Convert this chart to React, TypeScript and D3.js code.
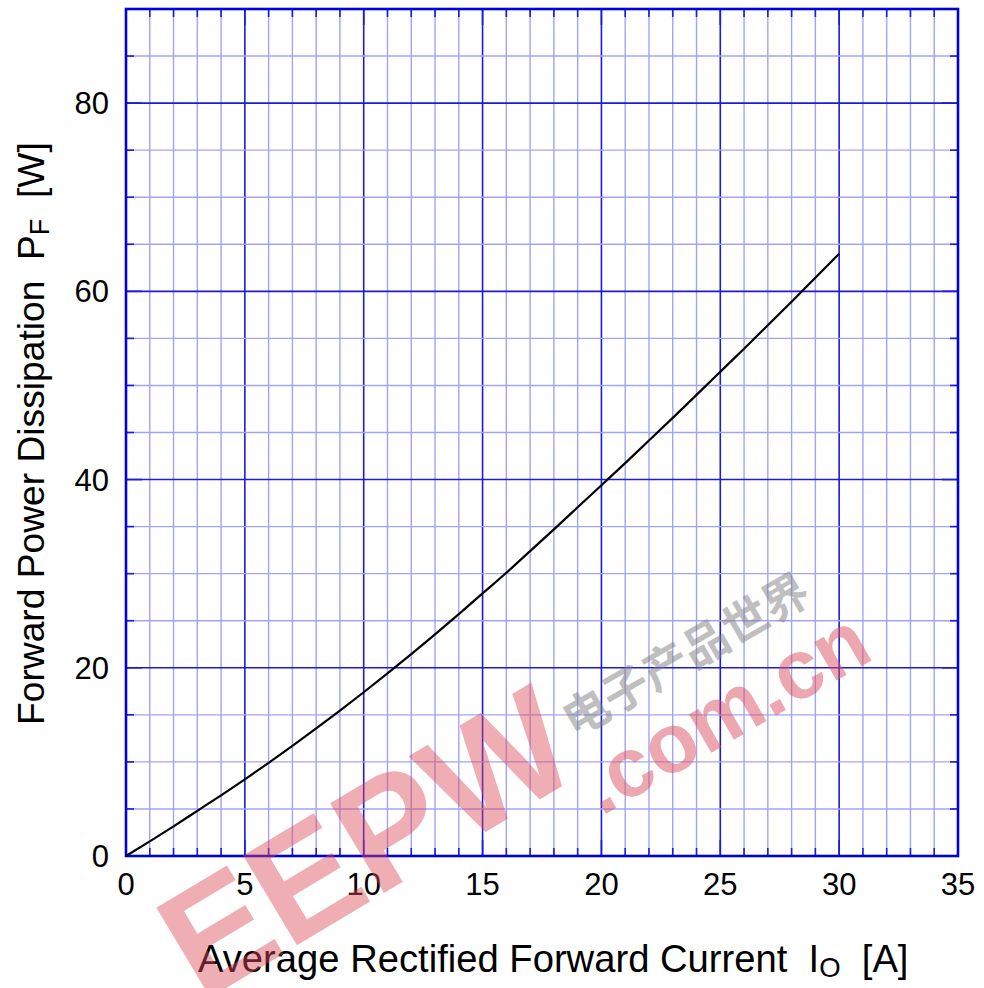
import React, { useEffect, useRef } from 'react';
import * as d3 from 'd3';

// forward current Io [A] and power dissipation Pf [W]
const current = [0, 1, 2, 3, 4, 5, 6, 7, 8, 9, 10, 11, 12, 13, 14, 15, 16, 17, 18, 19, 20, 21, 22, 23, 24, 25, 26, 27, 28, 29, 30];
const power = [0, 1.55, 3.15, 4.8, 6.45, 8.15, 9.9, 11.7, 13.55, 15.45, 17.4, 19.4, 21.45, 23.55, 25.7, 27.9, 30.1, 32.4, 34.7, 37.05, 39.4, 41.75, 44.15, 46.55, 49.0, 51.45, 53.9, 56.4, 58.9, 61.45, 64.0];

const xTickLabels = [0, 5, 10, 15, 20, 25, 30, 35];
const yTickLabels = [0, 20, 40, 60, 80];

const App = () => {
  const chartRef = useRef(null);

  useEffect(() => {
    const width = 984;
    const height = 988;
    const margin = { top: 9, right: 26, bottom: 132, left: 126 };
    const w = width - margin.left - margin.right;
    const h = height - margin.top - margin.bottom;
    const font = '"Liberation Sans", Arial, sans-serif';

    const root = d3
      .select(chartRef.current)
      .append('svg')
      .attr('width', width)
      .attr('height', height)
      .style('position', 'absolute')
      .style('left', 0)
      .style('top', 0)
      .style('background', '#fff');

    const svg = root.append('g').attr('transform', `translate(${margin.left},${margin.top})`);

    const x = d3.scaleLinear().domain([0, 35]).range([0, w]);
    const y = d3.scaleLinear().domain([0, 90]).range([h, 0]);

    const minorBlue = '#a3a3f3';
    const majorBlue = '#1a1ae0';

    // vertical grid: every 1 A, darker every 5 A
    const xs = d3.range(1, 35);
    svg
      .selectAll('.vgrid')
      .data(xs)
      .enter()
      .append('line')
      .attr('x1', d => x(d))
      .attr('x2', d => x(d))
      .attr('y1', 0)
      .attr('y2', h)
      .attr('stroke', d => (d % 5 === 0 ? majorBlue : minorBlue))
      .attr('stroke-width', d => (d % 5 === 0 ? 1.6 : 1.4));

    // horizontal grid: every 5 W, darker every 20 W
    const ys = d3.range(5, 90, 5);
    svg
      .selectAll('.hgrid')
      .data(ys)
      .enter()
      .append('line')
      .attr('x1', 0)
      .attr('x2', w)
      .attr('y1', d => y(d))
      .attr('y2', d => y(d))
      .attr('stroke', d => (d % 20 === 0 ? majorBlue : minorBlue))
      .attr('stroke-width', d => (d % 20 === 0 ? 1.6 : 1.4));

    // inward ticks on all four sides
    const tick = svg.append('g').attr('stroke', majorBlue).attr('stroke-width', 1.6);
    xs.forEach(d => {
      const len = d % 5 === 0 ? 16 : 8;
      tick.append('line').attr('x1', x(d)).attr('x2', x(d)).attr('y1', h).attr('y2', h - len);
      tick.append('line').attr('x1', x(d)).attr('x2', x(d)).attr('y1', 0).attr('y2', len);
    });
    ys.forEach(d => {
      const len = d % 20 === 0 ? 16 : 8;
      tick.append('line').attr('x1', 0).attr('x2', len).attr('y1', y(d)).attr('y2', y(d));
      tick.append('line').attr('x1', w).attr('x2', w - len).attr('y1', y(d)).attr('y2', y(d));
    });

    // frame
    svg
      .append('rect')
      .attr('x', 0)
      .attr('y', 0)
      .attr('width', w)
      .attr('height', h)
      .attr('fill', 'none')
      .attr('stroke', '#0000dd')
      .attr('stroke-width', 2.6);

    // curve
    const line = d3
      .line()
      .x((d, i) => x(current[i]))
      .y(d => y(d))
      .curve(d3.curveMonotoneX);

    svg
      .append('path')
      .datum(power)
      .attr('d', line)
      .attr('fill', 'none')
      .attr('stroke', '#000')
      .attr('stroke-width', 2.2);

    // tick labels
    svg
      .selectAll('.xlab')
      .data(xTickLabels)
      .enter()
      .append('text')
      .attr('x', d => x(d))
      .attr('y', h + 39)
      .attr('text-anchor', 'middle')
      .attr('font-family', font)
      .attr('font-size', 31)
      .text(d => d);

    svg
      .selectAll('.ylab')
      .data(yTickLabels)
      .enter()
      .append('text')
      .attr('x', -17)
      .attr('y', d => y(d) + 11)
      .attr('text-anchor', 'end')
      .attr('font-family', font)
      .attr('font-size', 31)
      .text(d => d);

    // axis titles
    const xt = root
      .append('text')
      .attr('x', 198)
      .attr('y', 972)
      .attr('font-family', font)
      .attr('font-size', 38.2)
      .attr('xml:space', 'preserve');
    xt.append('tspan').text('Average Rectified Forward Current  I');
    xt.append('tspan').attr('font-size', 27.5).attr('dy', 5).text('O');
    xt.append('tspan').attr('dy', -5).text('  [A]');

    const yt = root
      .append('text')
      .attr('transform', 'translate(44,725) rotate(-90)')
      .attr('font-family', font)
      .attr('font-size', 37.2)
      .attr('xml:space', 'preserve');
    yt.append('tspan').text('Forward Power Dissipation  P');
    yt.append('tspan').attr('font-size', 27).attr('dy', 5).text('F');
    yt.append('tspan').attr('dy', -5).text('  [W]');

    // watermark
    const wm = root.append('g').attr('pointer-events', 'none');
    wm
      .append('text')
      .attr('transform', 'translate(724,712) rotate(-30)')
      .attr('text-anchor', 'middle')
      .attr('dominant-baseline', 'central')
      .attr('font-family', font)
      .attr('font-weight', 'bold')
      .attr('font-size', 84)
      .attr('fill', '#dc5060')
      .attr('fill-opacity', 0.5)
      .text('.com.cn');
    wm
      .append('text')
      .attr('transform', 'translate(684,652) rotate(-30)')
      .attr('text-anchor', 'middle')
      .attr('dominant-baseline', 'central')
      .attr('font-family', '"Noto Sans CJK SC"')
      .attr('font-weight', 'bold')
      .attr('font-size', 46)
      .attr('fill', '#808080')
      .attr('fill-opacity', 0.5)
      .text('电子产品世界');
    wm
      .append('text')
      .attr('transform', 'translate(366,842) rotate(-31)')
      .attr('text-anchor', 'middle')
      .attr('dominant-baseline', 'central')
      .attr('font-family', font)
      .attr('font-weight', 900)
      .attr('font-size', 152)
      .attr('fill', '#dc4a58')
      .attr('fill-opacity', 0.45)
      .text('EEPW');

    return () => {
      root.remove();
    };
  }, []);

  return <div ref={chartRef}></div>;
};

export default App;
